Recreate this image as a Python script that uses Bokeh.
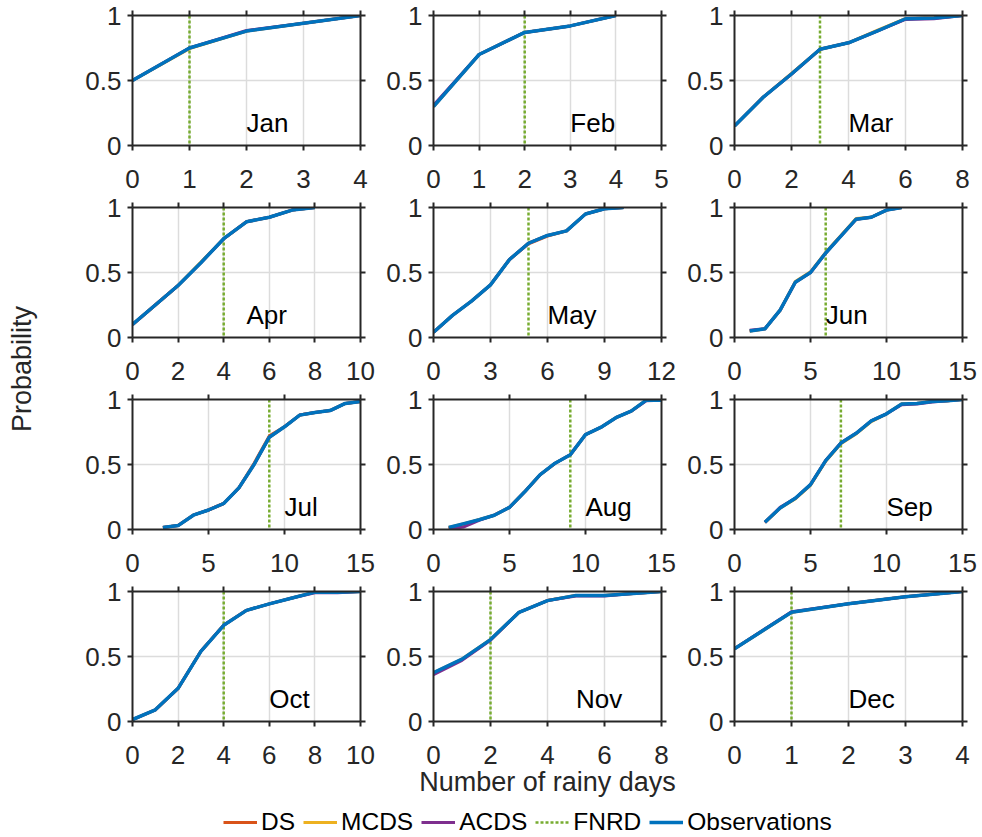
import math
from bokeh.plotting import figure
from bokeh.models import (Range1d, FixedTicker, LinearAxis, Span, Label,
                          Legend, LegendItem)
from bokeh.layouts import row, column
from bokeh.embed import file_html
from bokeh.resources import INLINE

# ---------------- data ----------------
MONTHS = ["Jan", "Feb", "Mar", "Apr", "May", "Jun",
          "Jul", "Aug", "Sep", "Oct", "Nov", "Dec"]
X_MAX = [4, 5, 8, 10, 12, 15, 15, 15, 15, 10, 8, 4]
X_TICKS = [[0, 1, 2, 3, 4], [0, 1, 2, 3, 4, 5], [0, 2, 4, 6, 8],
           [0, 2, 4, 6, 8, 10], [0, 3, 6, 9, 12], [0, 5, 10, 15],
           [0, 5, 10, 15], [0, 5, 10, 15], [0, 5, 10, 15],
           [0, 2, 4, 6, 8, 10], [0, 2, 4, 6, 8], [0, 1, 2, 3, 4]]
Y_TICKS = [0, 0.5, 1]
Y_TICK_LABELS = ["0", "0.5", "1"]
FNRD = [1, 2, 3, 4, 5, 6, 9, 9, 7, 4, 2, 1]
LABEL_X = [2, 3, 4, 5, 6, 6, 10, 10, 10, 6, 5, 2]
LEGEND_LABELS = ["DS", "MCDS", "ACDS", "FNRD", "Observations"]
X_TITLE = "Number of rainy days"
Y_TITLE = "Probability"

DAYS = {
    "Jan": [0, 1, 2, 3, 4],
    "Feb": [0, 1, 2, 3, 4],
    "Mar": [0, 1, 2, 3, 4, 5, 6, 7, 8],
    "Apr": [0, 1, 2, 3, 4, 5, 6, 7, 8],
    "May": [0, 1, 2, 3, 4, 5, 6, 7, 8, 9, 10],
    "Jun": [1, 2, 3, 4, 5, 6, 7, 8, 9, 10, 11],
    "Jul": [2, 3, 4, 5, 6, 7, 8, 9, 10, 11, 12, 13, 14, 15],
    "Aug": [1, 2, 3, 4, 5, 6, 7, 8, 9, 10, 11, 12, 13, 14, 15],
    "Sep": [2, 3, 4, 5, 6, 7, 8, 9, 10, 11, 12, 13, 14, 15],
    "Oct": [0, 1, 2, 3, 4, 5, 6, 7, 8, 9, 10],
    "Nov": [0, 1, 2, 3, 4, 5, 6, 7, 8],
    "Dec": [0, 1, 2, 3, 4],
}

OBS = {
    "Jan": [0.50, 0.75, 0.88, 0.94, 1.00],
    "Feb": [0.30, 0.70, 0.87, 0.92, 1.00],
    "Mar": [0.15, 0.37, 0.55, 0.74, 0.79, 0.88, 0.975, 0.98, 1.00],
    "Apr": [0.10, 0.25, 0.40, 0.575, 0.76, 0.89, 0.925, 0.98, 1.00],
    "May": [0.04, 0.17, 0.28, 0.405, 0.60, 0.725, 0.785, 0.82, 0.95, 0.99, 1.00],
    "Jun": [0.05, 0.067, 0.21, 0.425, 0.50, 0.65, 0.78, 0.91, 0.925, 0.98, 1.00],
    "Jul": [0.015, 0.03, 0.11, 0.15, 0.20, 0.32, 0.50, 0.71, 0.79, 0.88, 0.90,
            0.915, 0.97, 0.985],
    "Aug": [0.015, 0.045, 0.075, 0.11, 0.17, 0.29, 0.42, 0.51, 0.575, 0.73,
            0.785, 0.86, 0.91, 0.995, 0.995],
    "Sep": [0.055, 0.165, 0.24, 0.345, 0.53, 0.665, 0.74, 0.835, 0.89, 0.965,
            0.97, 0.985, 0.99, 1.00],
    "Oct": [0.015, 0.09, 0.255, 0.54, 0.74, 0.855, 0.905, 0.95, 0.995, 0.995, 1.00],
    "Nov": [0.375, 0.48, 0.63, 0.84, 0.93, 0.97, 0.97, 0.985, 1.00],
    "Dec": [0.56, 0.84, 0.905, 0.96, 1.00],
}

DS = {
    "Jan": [0.50, 0.75, 0.88, 0.94, 1.00],
    "Feb": [0.30, 0.70, 0.87, 0.92, 1.00],
    "Mar": [0.15, 0.37, 0.55, 0.74, 0.79, 0.88, 0.975, 0.98, 1.00],
    "Apr": [0.10, 0.25, 0.40, 0.575, 0.76, 0.89, 0.925, 0.98, 1.00],
    "May": [0.04, 0.17, 0.28, 0.405, 0.60, 0.72, 0.78, 0.82, 0.95, 0.99, 1.00],
    "Jun": [0.05, 0.067, 0.21, 0.425, 0.50, 0.65, 0.78, 0.91, 0.925, 0.98, 1.00],
    "Jul": [0.015, 0.03, 0.11, 0.15, 0.20, 0.32, 0.51, 0.72, 0.79, 0.88, 0.90,
            0.915, 0.97, 0.985],
    "Aug": [0.01, 0.04, 0.075, 0.11, 0.17, 0.29, 0.42, 0.51, 0.575, 0.73,
            0.785, 0.86, 0.91, 0.995, 1.00],
    "Sep": [0.055, 0.165, 0.24, 0.345, 0.53, 0.665, 0.74, 0.835, 0.89, 0.965,
            0.97, 0.985, 0.99, 1.00],
    "Oct": [0.015, 0.09, 0.255, 0.54, 0.74, 0.855, 0.905, 0.95, 0.995, 0.995, 1.00],
    "Nov": [0.37, 0.475, 0.63, 0.84, 0.93, 0.97, 0.97, 0.985, 1.00],
    "Dec": [0.56, 0.84, 0.905, 0.96, 1.00],
}

MCDS = {
    "Jan": [0.50, 0.745, 0.88, 0.94, 1.00],
    "Feb": [0.30, 0.70, 0.87, 0.92, 1.00],
    "Mar": [0.15, 0.37, 0.555, 0.74, 0.79, 0.885, 0.975, 0.98, 1.00],
    "Apr": [0.10, 0.25, 0.40, 0.58, 0.76, 0.89, 0.925, 0.98, 1.00],
    "May": [0.04, 0.17, 0.28, 0.405, 0.60, 0.725, 0.785, 0.82, 0.95, 0.99, 1.00],
    "Jun": [0.05, 0.067, 0.21, 0.43, 0.505, 0.655, 0.785, 0.915, 0.925, 0.98, 1.00],
    "Jul": [0.015, 0.03, 0.11, 0.15, 0.20, 0.32, 0.50, 0.71, 0.79, 0.88, 0.90,
            0.915, 0.97, 0.985],
    "Aug": [0.015, 0.045, 0.075, 0.11, 0.17, 0.29, 0.42, 0.51, 0.575, 0.73,
            0.785, 0.86, 0.91, 0.995, 0.995],
    "Sep": [0.055, 0.165, 0.235, 0.34, 0.525, 0.66, 0.735, 0.83, 0.89, 0.965,
            0.97, 0.985, 0.99, 1.00],
    "Oct": [0.015, 0.09, 0.255, 0.54, 0.74, 0.855, 0.905, 0.95, 0.995, 0.995, 1.00],
    "Nov": [0.375, 0.48, 0.63, 0.84, 0.93, 0.97, 0.97, 0.985, 1.00],
    "Dec": [0.56, 0.84, 0.905, 0.96, 1.00],
}

ACDS = {
    "Jan": [0.50, 0.75, 0.885, 0.94, 1.00],
    "Feb": [0.31, 0.70, 0.87, 0.92, 1.00],
    "Mar": [0.15, 0.37, 0.55, 0.74, 0.79, 0.88, 0.97, 0.975, 1.00],
    "Apr": [0.10, 0.25, 0.40, 0.575, 0.76, 0.89, 0.925, 0.98, 1.00],
    "May": [0.04, 0.17, 0.28, 0.405, 0.60, 0.725, 0.785, 0.82, 0.95, 0.99, 1.00],
    "Jun": [0.055, 0.067, 0.21, 0.425, 0.50, 0.65, 0.78, 0.91, 0.925, 0.98, 1.00],
    "Jul": [0.015, 0.03, 0.11, 0.15, 0.20, 0.32, 0.50, 0.71, 0.79, 0.88, 0.90,
            0.915, 0.97, 0.985],
    "Aug": [0.005, 0.02, 0.07, 0.11, 0.17, 0.29, 0.42, 0.51, 0.575, 0.73,
            0.785, 0.86, 0.91, 0.99, 0.995],
    "Sep": [0.055, 0.17, 0.24, 0.345, 0.53, 0.665, 0.74, 0.835, 0.89, 0.96,
            0.965, 0.98, 0.99, 1.00],
    "Oct": [0.015, 0.09, 0.255, 0.54, 0.74, 0.855, 0.905, 0.95, 0.99, 0.99, 1.00],
    "Nov": [0.36, 0.47, 0.625, 0.84, 0.93, 0.965, 0.965, 0.985, 1.00],
    "Dec": [0.56, 0.845, 0.905, 0.96, 1.00],
}

# ---------------- style ----------------
FONT = "Liberation Sans"
AX = "#262626"
GRID = "#DCDCDC"
C_DS, C_MCDS, C_ACDS, C_FNRD, C_OBS = "#D95319", "#EDB120", "#7E2F8E", "#77AC30", "#0072BD"
FNRD_DASH = "3 2"
W_MODEL, W_OBS, W_FNRD = 3, 3.5, 2.5

FRAME_W = 228
LEFT_B = 52
RIGHT_B = [21, 21, 17]
LEFT_W = 80
ROW_H = [193, 192, 192, 224]
TOP_B = [15, 14, 14, 14]
BOT_B = [48, 48, 48, 80]
STRIP_H = 36
XTITLE_PANEL = 10


def style_axis(ax, show_labels, overrides):
    ax.axis_line_color = AX
    ax.axis_line_width = 2
    ax.major_tick_line_color = AX
    ax.major_tick_line_width = 2
    ax.major_tick_out = 5
    ax.major_tick_in = 0
    ax.minor_tick_out = 0
    ax.minor_tick_in = 0
    ax.minor_tick_line_color = None
    ax.major_label_overrides = overrides
    if show_labels:
        ax.major_label_text_font = FONT
        ax.major_label_text_font_size = "26px"
        ax.major_label_text_color = AX
    else:
        ax.major_label_text_font_size = "1px"
        ax.major_label_standoff = 0


def make_panel(i):
    m = MONTHS[i]
    r, c = i // 3, i % 3
    p = figure(width=LEFT_B + FRAME_W + RIGHT_B[c], height=ROW_H[r],
               x_range=Range1d(0, X_MAX[i]), y_range=Range1d(0, 1),
               output_backend="svg", toolbar_location=None,
               min_border_left=LEFT_B, min_border_right=RIGHT_B[c],
               min_border_top=TOP_B[r], min_border_bottom=BOT_B[r])
    p.outline_line_color = None
    p.background_fill_color = "white"
    p.border_fill_color = "white"

    xt = FixedTicker(ticks=X_TICKS[i])
    yt = FixedTicker(ticks=Y_TICKS)
    bx = p.below[0]
    ly = p.left[0]
    bx.ticker = xt
    ly.ticker = yt
    style_axis(bx, True, {t: str(t) for t in X_TICKS[i]})
    bx.major_label_standoff = 19
    style_axis(ly, True, {t: s for t, s in zip(Y_TICKS, Y_TICK_LABELS)})
    ly.major_label_standoff = 6

    top = LinearAxis(ticker=FixedTicker(ticks=X_TICKS[i]))
    style_axis(top, False, {t: "" for t in X_TICKS[i]})
    p.add_layout(top, "above")
    right = LinearAxis(ticker=FixedTicker(ticks=Y_TICKS))
    style_axis(right, False, {t: "" for t in Y_TICKS})
    p.add_layout(right, "right")

    p.xgrid.ticker = xt
    p.ygrid.ticker = yt
    p.grid.grid_line_color = GRID
    p.grid.grid_line_width = 1.5

    p.add_layout(Span(location=FNRD[i], dimension="height", line_color=C_FNRD,
                      line_width=W_FNRD, line_dash=FNRD_DASH, level="underlay"))

    for series, color, w in ((DS, C_DS, W_MODEL), (MCDS, C_MCDS, W_MODEL),
                             (ACDS, C_ACDS, W_MODEL), (OBS, C_OBS, W_OBS)):
        p.line(DAYS[m], series[m], line_color=color, line_width=w,
               line_join="round")

    p.add_layout(Label(x=LABEL_X[i], y=0.2, text=m, text_font=FONT,
                       text_font_size="26px", text_color="black",
                       text_align="left", text_baseline="middle", y_offset=-3))

    if i == XTITLE_PANEL:
        # shared x title, centred under the middle column
        bx.axis_label = X_TITLE
        bx.axis_label_text_font = FONT
        bx.axis_label_text_font_size = "27px"
        bx.axis_label_text_font_style = "normal"
        bx.axis_label_text_color = AX
        bx.axis_label_standoff = 0
    return p


def blank(width, height):
    f = figure(width=width, height=height, x_range=Range1d(0, 1),
               y_range=Range1d(0, 1), x_axis_location=None,
               y_axis_location=None, output_backend="svg",
               toolbar_location=None, min_border=0)
    f.outline_line_color = None
    f.grid.visible = False
    f.xgrid.visible = False
    f.ygrid.visible = False
    return f


panels = [make_panel(i) for i in range(12)]
grid_rows = [row(*panels[3 * r:3 * r + 3]) for r in range(4)]
rows_h = sum(ROW_H)

# y title column
ylab = blank(LEFT_W, rows_h)
ylab.add_layout(Label(x=21, y=rows_h - 368.5, x_units="screen", y_units="screen",
                      text=Y_TITLE, angle=math.pi / 2,
                      text_align="center", text_baseline="middle",
                      text_font=FONT, text_font_size="27px", text_color=AX))

# bottom strip: legend
total_w = LEFT_W + 3 * (LEFT_B + FRAME_W) + sum(RIGHT_B)
strip = blank(total_w, STRIP_H)
items = []
for name, color, dash, w in zip(LEGEND_LABELS,
                                [C_DS, C_MCDS, C_ACDS, C_FNRD, C_OBS],
                                ["solid", "solid", "solid", FNRD_DASH, "solid"],
                                [W_MODEL, W_MODEL, W_MODEL, W_FNRD, W_OBS]):
    rr = strip.line(DAYS["Dec"], OBS["Dec"], line_color=color, line_width=w,
                    line_dash=dash, visible=False)
    items.append(LegendItem(label=name, renderers=[rr]))
legend = Legend(items=items, orientation="horizontal", location=(223, 1),
                padding=0, margin=0, spacing=8, label_standoff=4,
                glyph_width=34, glyph_height=20, label_height=20,
                label_text_font=FONT, label_text_font_size="24.5px",
                label_text_color="black", border_line_color=None,
                background_fill_alpha=0, inactive_fill_alpha=0)
strip.add_layout(legend, "center")

layout = column(row(ylab, column(*grid_rows)), strip)
open("out.html", "w").write(file_html(layout, INLINE))
